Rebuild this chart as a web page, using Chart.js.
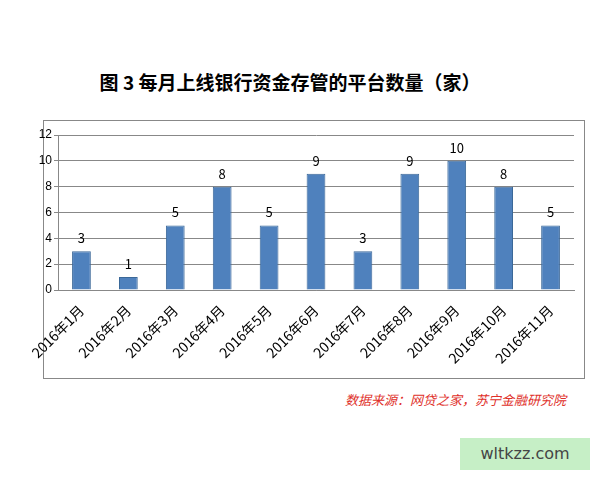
<!DOCTYPE html>
<html>
<head>
<meta charset="utf-8" />
<script src="https://cdn.jsdelivr.net/npm/chart.js@4/dist/chart.umd.min.js"></script>
<style>
  body { margin:0; width:600px; height:480px; background:#fff; position:relative; font-family:"Noto Sans CJK SC", sans-serif; }
  #title { position:absolute; top:68px; left:0; width:580px; text-align:center; font-size:19px; font-weight:bold; color:#000; }
  #box { position:absolute; left:43px; top:120px; width:540px; height:257px; border:1px solid #888; }
  #c { position:absolute; left:24px; top:121px; }
  #src { position:absolute; left:345px; top:390px; font-size:13px; font-style:italic; color:#e0302a; }
  #wm { position:absolute; left:460px; top:438px; width:130px; height:32px; background:#c6efc6; color:#444; font:16px "DejaVu Sans", sans-serif; text-align:center; line-height:32px; }
</style>
</head>
<body>
<div id="title">图 3 每月上线银行资金存管的平台数量（家）</div>
<div id="box"></div>
<canvas id="c" width="566" height="255"></canvas>
<div id="src">数据来源：网贷之家，苏宁金融研究院</div>
<div id="wm">wltkzz.com</div>
<script>
const labels = ['2016年1月','2016年2月','2016年3月','2016年4月','2016年5月','2016年6月','2016年7月','2016年8月','2016年9月','2016年10月','2016年11月'];
const values = [3, 1, 5, 8, 5, 9, 3, 9, 10, 8, 5];

const valueLabels = {
  id: 'valueLabels',
  afterDatasetsDraw(chart) {
    const ctx = chart.ctx;
    ctx.save();
    ctx.font = '13px "Noto Sans CJK SC", sans-serif';
    ctx.fillStyle = '#000';
    ctx.textAlign = 'center';
    chart.getDatasetMeta(0).data.forEach((bar, i) => {
      ctx.fillText(values[i], bar.x, bar.y - 8);
    });
    ctx.restore();
  }
};

new Chart(document.getElementById('c'), {
  type: 'bar',
  data: { labels: labels, datasets: [{ data: values, backgroundColor: '#4f81bd', borderColor: '#3b6898', borderWidth: 1, barPercentage: 0.4, categoryPercentage: 1 }] },
  options: {
    responsive: false, animation: false,
    layout: { padding: { left: 0, right: 16, top: 14, bottom: 0 } },
    plugins: { legend: { display: false }, tooltip: { enabled: false } },
    scales: {
      x: { grid: { display: false }, border: { color: '#888' },
           afterFit: (s) => { s.height = 86; },
           ticks: { color: '#000', padding: 4, font: { size: 14, family: 'Noto Sans CJK SC' }, maxRotation: 45, minRotation: 45 } },
      y: { min: 0, max: 12, afterFit: (s) => { s.width = 34; },
           ticks: { stepSize: 2, color: '#000', padding: 2, font: { size: 12 } },
           grid: { color: '#888', drawTicks: true, tickLength: 4 }, border: { color: '#888' } }
    }
  },
  plugins: [valueLabels]
});
</script>
</body>
</html>
